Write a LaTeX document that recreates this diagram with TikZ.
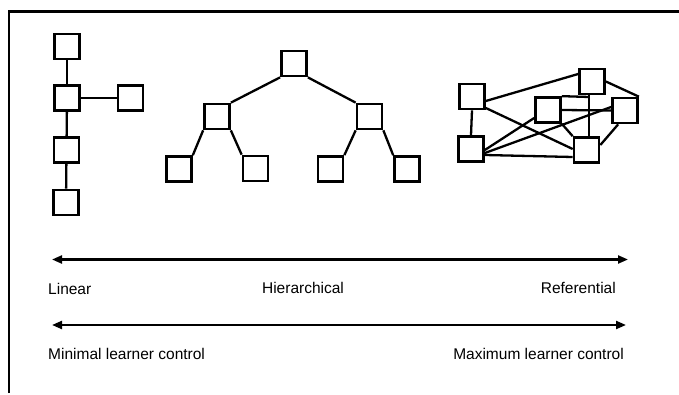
\documentclass[tikz,border=0pt]{standalone}
\usepackage{fontspec}
\setmainfont{Liberation Sans}
\usetikzlibrary{arrows.meta,calc}
\tikzset{
  box/.style={draw, line width=2.7pt, minimum width=25pt, minimum height=25pt, inner sep=0pt},
  link/.style={line width=2.3pt},
  frameline/.style={line width=2.8pt},
  scale arrow/.style={line width=2.2pt, {Triangle[length=10pt,width=8pt]}-{Triangle[length=10pt,width=8pt]}},
  lbl/.style={font=\fontsize{15.5}{18}\selectfont, inner sep=0pt}
}
\begin{document}
\begin{tikzpicture}[x=1pt,y=-1pt]
\useasboundingbox (0,0) rectangle (679,395);
% frame (top and left)
\coordinate (f1) at (9,393);
\coordinate (f2) at (9,11.5);
\coordinate (f3) at (679,11.5);
\draw[frameline] (f1) -- (f2) -- (f3);

% Linear
\node[box] (L1) at (67,46.5) {};
\node[box] (L2) at (67,98) {};
\node[box] (L3) at (66.5,150) {};
\node[box] (L4) at (66,202.5) {};
\node[box] (LR) at (130.5,98) {};
\draw[link] (L1) -- (L2);
\draw[link] (L2) -- (L3);
\draw[link] (L3) -- (L4);
\draw[link] (L2) -- (LR);

% Hierarchical
\node[box] (H0) at (294,63.5) {};
\node[box] (H1) at (217,116.5) {};
\node[box] (H2) at (369.5,116.5) {};
\node[box] (H11) at (179,169) {};
\node[box] (H12) at (255.5,168.5) {};
\node[box] (H21) at (330.5,169) {};
\node[box] (H22) at (407,169) {};
\draw[link] (H0.south west) -- (H1.north east);
\draw[link] (H0.south east) -- (H2.north west);
\draw[link] (H1.south west) -- (H11.north east);
\draw[link] (H1.south east) -- (H12.north west);
\draw[link] (H2.south west) -- (H21.north east);
\draw[link] (H2.south east) -- (H22.north west);

% Referential
\node[box] (A) at (472,96.5) {};
\node[box] (B) at (471,149) {};
\node[box] (C) at (592,81.5) {};
\node[box] (D) at (548,110) {};
\node[box] (E) at (625,110.5) {};
\node[box] (F) at (586.5,150) {};
\coordinate (dj) at (589,97);
\draw[link] (A.south) -- (B.north);
\draw[link] ($(A.east)+(0,4.5)$) -- ($(C.west)+(0,-7.5)$);
\draw[link] ($(A.east)+(0,11.5)$) -- ($(F.west)+(0,-1)$);
\draw[link] ($(B.east)+(0,1)$) -- ($(D.west)+(0,8)$);
\draw[link] ($(B.east)+(0,4)$) -- ($(E.west)+(0,-3.5)$);
\draw[link] ($(B.east)+(0,6)$) -- ($(F.west)+(0,7)$);
\draw[link] ($(C.south)+(-3,0)$) -- ($(F.north)+(2.5,0)$);
\draw[link] (D.north east) -- (dj);
\draw[link] (D.east) -- (E.west);
\draw[link] (D.south east) -- (F.north west);
\draw[link] (C.east) -- (E.north east);
\draw[link] ($(E.south west)+(7,0)$) -- ($(F.east)+(0,-5)$);

% scales
\coordinate (s1a) at (52,259.5);
\coordinate (s1b) at (628,259.5);
\coordinate (s2a) at (52,325);
\coordinate (s2b) at (626,325);
\draw[scale arrow] (s1a) -- (s1b);
\draw[scale arrow] (s2a) -- (s2b);

\node[lbl, anchor=west] (lin) at (48,289) {Linear};
\node[lbl] (hie) at (303,288) {Hierarchical};
\node[lbl, anchor=east] (ref) at (616,288) {Referential};
\node[lbl, anchor=west] (minc) at (48,354) {Minimal learner control};
\node[lbl, anchor=east] (maxc) at (624,354) {Maximum learner control};
\end{tikzpicture}
\end{document}
